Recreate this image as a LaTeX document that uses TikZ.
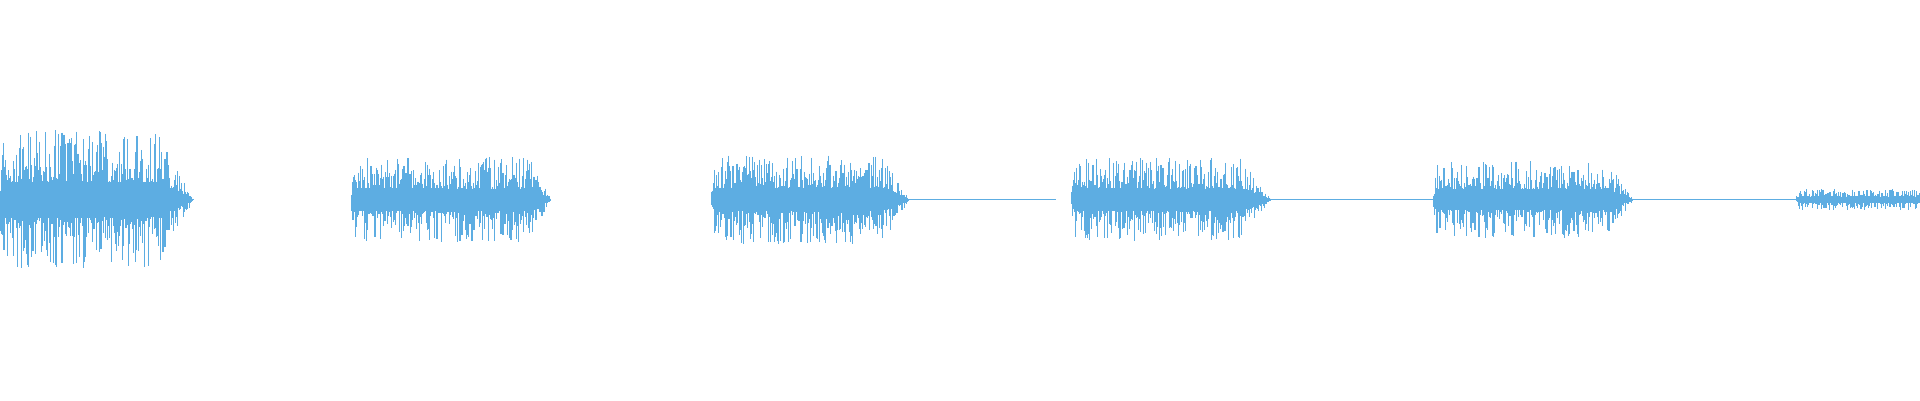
\documentclass[tikz,border=0pt]{standalone}
\definecolor{wave}{RGB}{93,173,226}
\newcommand\wseg[4]{%
  \pgfmathtruncatemacro\nn{(#2-#1)/0.55}%
  \foreach \k in {0,...,\nn}{%
    \pgfmathsetmacro\x{#1+\k*0.55}%
    \pgfmathsetmacro\env{#3*min(1,(\x-#1)/4+0.35)*max(0,min(1,(#2-\x)/#4))}%
    \pgfmathsetmacro\a{\env*(0.25+0.75*rnd^2.5)+0.5}%
    \pgfmathsetmacro\b{\env*(0.25+0.75*rnd^2.5)+0.5}%
    \draw (\x,163-\a)--(\x,163+\b);}}
\begin{document}
\begin{tikzpicture}[x=0.5pt,y=-0.5pt]
\useasboundingbox (0,0) rectangle (1568,327);
\clip (0,0) rectangle (1568,327);
\pgfmathsetseed{42}
\begin{scope}[wave,line width=0.45]
\wseg{0}{158}{56}{30}
\wseg{287}{450}{34}{18}
\wseg{581}{742}{36}{22}
\wseg{875}{1038}{34}{25}
\wseg{1171}{1334}{31}{22}
\wseg{1467}{1600}{8}{5}
\draw[line width=0.4] (740,163)--(862,163) (1030,163)--(1172,163) (1330,163)--(1467,163);
\end{scope}
\end{tikzpicture}
\end{document}
